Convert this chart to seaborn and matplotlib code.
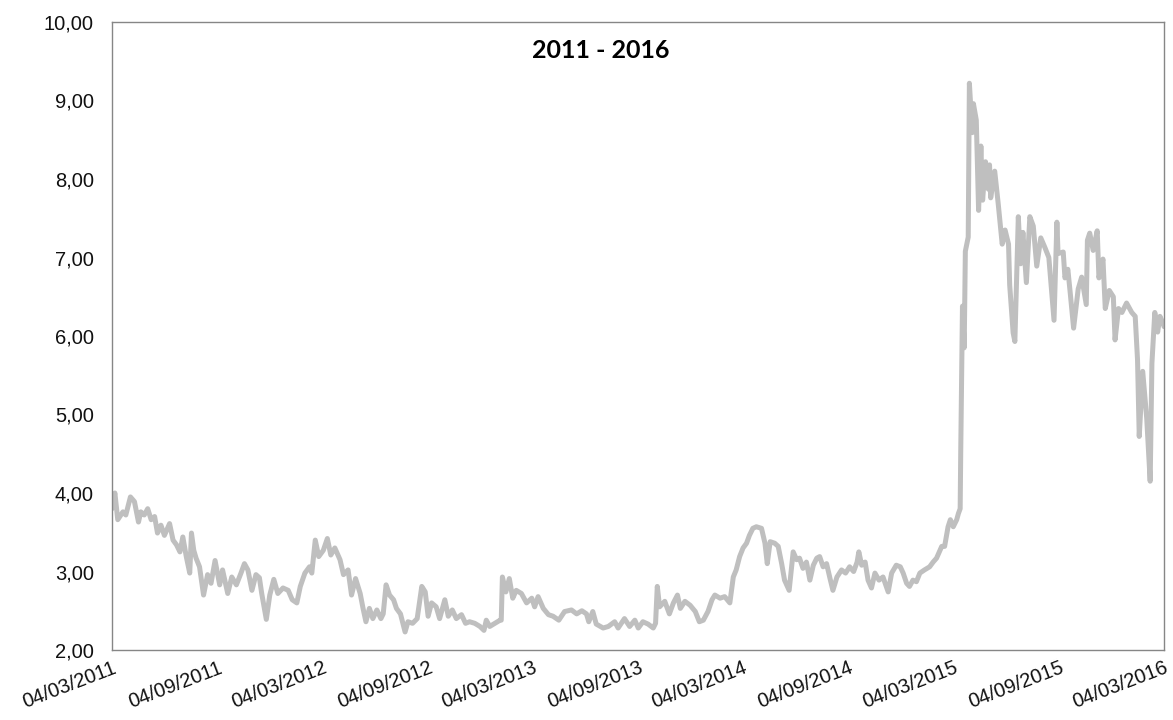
import matplotlib
matplotlib.use("Agg")
import matplotlib.pyplot as plt
import matplotlib.dates as mdates
from matplotlib.ticker import FuncFormatter
import seaborn as sns
import pandas as pd

# ---------------- data ----------------
dates_2011 = ["2011-03-04", "2011-03-09", "2011-03-14", "2011-03-23", "2011-03-28",
              "2011-04-05", "2011-04-12", "2011-04-19", "2011-04-23", "2011-04-29",
              "2011-05-05", "2011-05-11", "2011-05-17", "2011-05-22", "2011-05-28",
              "2011-06-03", "2011-06-12", "2011-06-18", "2011-06-24", "2011-06-30",
              "2011-07-05", "2011-07-11", "2011-07-17", "2011-07-20", "2011-07-24",
              "2011-07-28", "2011-08-03", "2011-08-10", "2011-08-17", "2011-08-23",
              "2011-08-30", "2011-09-07", "2011-09-12", "2011-09-21", "2011-09-28",
              "2011-10-06", "2011-10-14", "2011-10-20", "2011-10-26", "2011-11-02",
              "2011-11-09", "2011-11-15", "2011-11-19", "2011-11-27", "2011-12-03",
              "2011-12-10", "2011-12-17", "2011-12-26"]
values_2011 = [3.80, 4.00, 3.66, 3.76, 3.72,
               3.95, 3.89, 3.63, 3.76, 3.72,
               3.80, 3.66, 3.70, 3.49, 3.59,
               3.46, 3.61, 3.40, 3.34, 3.25,
               3.44, 3.19, 2.98, 3.49, 3.27,
               3.17, 3.06, 2.70, 2.96, 2.85,
               3.14, 2.83, 3.02, 2.72, 2.93,
               2.83, 2.98, 3.10, 3.02, 2.76,
               2.96, 2.92, 2.72, 2.39, 2.70,
               2.90, 2.72, 2.79]

dates_2012 = ["2012-01-04", "2012-01-11", "2012-01-19", "2012-01-25", "2012-02-02",
              "2012-02-10", "2012-02-14", "2012-02-20", "2012-02-26", "2012-03-05",
              "2012-03-12", "2012-03-18", "2012-03-25", "2012-04-03", "2012-04-09",
              "2012-04-17", "2012-04-23", "2012-04-30", "2012-05-08", "2012-05-13",
              "2012-05-18", "2012-05-24", "2012-05-30", "2012-06-06", "2012-06-13",
              "2012-06-17", "2012-06-22", "2012-06-28", "2012-07-05", "2012-07-10",
              "2012-07-17", "2012-07-25", "2012-07-30", "2012-08-07", "2012-08-15",
              "2012-08-23", "2012-08-29", "2012-09-03", "2012-09-09", "2012-09-17",
              "2012-09-23", "2012-10-02", "2012-10-08", "2012-10-15", "2012-10-22",
              "2012-10-31", "2012-11-07", "2012-11-14", "2012-11-23", "2012-12-02",
              "2012-12-09", "2012-12-13", "2012-12-19", "2012-12-28"]
values_2012 = [2.76, 2.64, 2.60, 2.81, 2.98,
               3.06, 2.98, 3.40, 3.19, 3.27,
               3.42, 3.21, 3.30, 3.15, 2.96,
               3.02, 2.70, 2.91, 2.72, 2.53,
               2.36, 2.53, 2.40, 2.51, 2.40,
               2.46, 2.83, 2.70, 2.64, 2.53,
               2.46, 2.23, 2.36, 2.34, 2.40,
               2.81, 2.74, 2.43, 2.60, 2.55,
               2.40, 2.64, 2.43, 2.51, 2.40,
               2.45, 2.34, 2.36, 2.34, 2.30,
               2.25, 2.38, 2.30, 2.34]

dates_2013 = ["2013-01-06", "2013-01-08", "2013-01-10", "2013-01-16", "2013-01-22",
              "2013-01-28", "2013-02-03", "2013-02-12", "2013-02-21", "2013-03-02",
              "2013-03-07", "2013-03-13", "2013-03-22", "2013-03-31", "2013-04-08",
              "2013-04-18", "2013-04-28", "2013-05-10", "2013-05-19", "2013-05-28",
              "2013-06-05", "2013-06-09", "2013-06-16", "2013-06-22", "2013-07-04",
              "2013-07-13", "2013-07-24", "2013-07-30", "2013-08-10", "2013-08-19",
              "2013-08-28", "2013-09-03", "2013-09-11", "2013-09-20", "2013-09-29",
              "2013-10-03", "2013-10-06", "2013-10-10", "2013-10-19", "2013-10-27",
              "2013-11-03", "2013-11-10", "2013-11-15", "2013-11-23", "2013-12-02",
              "2013-12-11", "2013-12-18", "2013-12-25"]
values_2013 = [2.38, 2.38, 2.93, 2.74, 2.91,
               2.66, 2.76, 2.72, 2.60, 2.66,
               2.55, 2.68, 2.53, 2.45, 2.43,
               2.38, 2.49, 2.51, 2.46, 2.50,
               2.46, 2.36, 2.49, 2.33, 2.28,
               2.30, 2.36, 2.28, 2.40, 2.30,
               2.38, 2.28, 2.36, 2.33, 2.28,
               2.34, 2.81, 2.55, 2.62, 2.46,
               2.60, 2.70, 2.53, 2.62, 2.57,
               2.49, 2.36, 2.38]

dates_2014 = ["2014-01-02", "2014-01-09", "2014-01-14", "2014-01-23", "2014-01-31",
              "2014-02-09", "2014-02-15", "2014-02-20", "2014-02-26", "2014-03-04",
              "2014-03-10", "2014-03-15", "2014-03-21", "2014-03-27", "2014-04-05",
              "2014-04-11", "2014-04-15", "2014-04-20", "2014-04-28", "2014-05-04",
              "2014-05-10", "2014-05-15", "2014-05-23", "2014-05-30", "2014-06-05",
              "2014-06-10", "2014-06-16", "2014-06-22", "2014-06-28", "2014-07-04",
              "2014-07-10", "2014-07-15", "2014-07-21", "2014-07-27", "2014-08-02",
              "2014-08-07", "2014-08-14", "2014-08-22", "2014-08-29", "2014-09-05",
              "2014-09-12", "2014-09-18", "2014-09-21", "2014-09-26", "2014-10-02",
              "2014-10-07", "2014-10-13", "2014-10-19", "2014-10-26", "2014-11-02",
              "2014-11-11", "2014-11-17", "2014-11-25", "2014-12-02", "2014-12-07",
              "2014-12-13", "2014-12-18", "2014-12-24", "2014-12-30"]
values_2014 = [2.49, 2.64, 2.70, 2.66, 2.68,
               2.60, 2.93, 3.02, 3.19, 3.30,
               3.36, 3.46, 3.55, 3.57, 3.55,
               3.36, 3.10, 3.38, 3.36, 3.32,
               3.10, 2.89, 2.76, 3.25, 3.15,
               3.17, 3.04, 3.12, 2.89, 3.08,
               3.17, 3.19, 3.06, 3.10, 2.91,
               2.76, 2.93, 3.02, 2.98, 3.06,
               3.00, 3.12, 3.25, 3.08, 3.12,
               2.89, 2.79, 2.98, 2.89, 2.93,
               2.74, 2.98, 3.08, 3.06, 2.98,
               2.85, 2.81, 2.89, 2.87]

dates_2015 = ["2015-01-05", "2015-01-13", "2015-01-22", "2015-01-28", "2015-02-03",
              "2015-02-12", "2015-02-17", "2015-02-23", "2015-02-27", "2015-03-04",
              "2015-03-10", "2015-03-13", "2015-03-16", "2015-03-17", "2015-03-19",
              "2015-03-20", "2015-03-23", "2015-03-25", "2015-03-30", "2015-04-01",
              "2015-04-06", "2015-04-08", "2015-04-13", "2015-04-17", "2015-04-21",
              "2015-04-24", "2015-04-29", "2015-05-04", "2015-05-06", "2015-05-08",
              "2015-05-15", "2015-05-21", "2015-05-25", "2015-05-28", "2015-06-02",
              "2015-06-08", "2015-06-10", "2015-06-16", "2015-06-19", "2015-06-25",
              "2015-06-29", "2015-07-03", "2015-07-09", "2015-07-15", "2015-07-21",
              "2015-07-27", "2015-08-03", "2015-08-10", "2015-08-17", "2015-08-21",
              "2015-08-26", "2015-08-31", "2015-09-02", "2015-09-11", "2015-09-14",
              "2015-09-19", "2015-09-23", "2015-09-29", "2015-10-07", "2015-10-13",
              "2015-10-21", "2015-10-23", "2015-10-27", "2015-11-02", "2015-11-09",
              "2015-11-12", "2015-11-19", "2015-11-23", "2015-11-30", "2015-12-07",
              "2015-12-10", "2015-12-16", "2015-12-22", "2015-12-30"]
values_2015 = [2.98, 3.02, 3.06, 3.12, 3.17,
               3.32, 3.32, 3.57, 3.66, 3.57,
               3.66, 3.74, 3.80, 4.53, 5.72,
               6.38, 5.85, 7.08, 7.26, 9.22,
               8.59, 8.96, 8.75, 7.60, 8.42,
               7.73, 8.22, 7.87, 8.18, 7.76,
               8.10, 7.69, 7.39, 7.17, 7.35,
               7.17, 6.65, 6.04, 5.93, 7.52,
               6.92, 7.32, 6.68, 7.52, 7.40,
               6.89, 7.25, 7.13, 7.00, 6.65,
               6.20, 7.45, 7.05, 7.07, 6.74,
               6.85, 6.56, 6.10, 6.60, 6.75,
               6.40, 7.22, 7.31, 7.09, 7.34,
               6.74, 6.98, 6.35, 6.58, 6.50,
               5.95, 6.35, 6.30, 6.42]

dates_2016 = ["2016-01-08", "2016-01-14", "2016-01-18", "2016-01-21", "2016-01-27",
              "2016-02-03", "2016-02-09", "2016-02-12", "2016-02-17", "2016-02-22",
              "2016-02-26", "2016-03-03", "2016-03-04"]
values_2016 = [6.30, 6.25, 5.70, 4.72, 5.55,
               4.95, 4.15, 5.65, 6.30, 6.05,
               6.25, 6.15, 6.12]

tick_dates = ["2011-03-04", "2011-09-04", "2012-03-04", "2012-09-04", "2013-03-04",
              "2013-09-04", "2014-03-04", "2014-09-04", "2015-03-04", "2015-09-04",
              "2016-03-04"]
y_ticks = [2, 3, 4, 5, 6, 7, 8, 9, 10]
title_text = "2011 - 2016"

all_dates = dates_2011 + dates_2012 + dates_2013 + dates_2014 + dates_2015 + dates_2016
all_values = values_2011 + values_2012 + values_2013 + values_2014 + values_2015 + values_2016
df = pd.DataFrame({"date": pd.to_datetime(all_dates), "value": all_values})

# ---------------- style ----------------
sns.set_theme(style="white")
plt.rcParams["font.family"] = ["Liberation Sans", "DejaVu Sans"]

W, H = 1173, 720
fig = plt.figure(figsize=(W / 100, H / 100), dpi=100)
fig.patch.set_facecolor("white")
left, right, top, bottom = 112, 1164, 22, 650
ax = fig.add_axes([left / W, 1 - bottom / H, (right - left) / W, (bottom - top) / H])

sns.lineplot(data=df, x="date", y="value", ax=ax, color="#BFBFBF",
             linewidth=3.6, estimator=None)
for ln in ax.lines:
    ln.set_solid_joinstyle("round")
    ln.set_solid_capstyle("round")

ax.set_xlim(pd.Timestamp(tick_dates[0]), pd.Timestamp(tick_dates[-1]))
ax.set_ylim(y_ticks[0], y_ticks[-1])
ax.set_yticks(y_ticks)
ax.yaxis.set_major_formatter(FuncFormatter(lambda v, p: f"{v:.2f}".replace(".", ",")))
ax.set_xticks(pd.to_datetime(tick_dates))
ax.xaxis.set_major_formatter(mdates.DateFormatter("%d/%m/%Y"))
ax.set_xlabel("")
ax.set_ylabel("")
ax.grid(False)

spine_color = "#868686"
for sp in ax.spines.values():
    sp.set_visible(True)
    sp.set_color(spine_color)
    sp.set_linewidth(1.0)

ax.tick_params(axis="both", which="major", direction="out", length=5, width=1,
               color=spine_color, labelsize=14.5, labelcolor="#111111")
ax.tick_params(axis="y", pad=8)
ax.tick_params(axis="x", pad=1)
for lbl in ax.get_xticklabels():
    lbl.set_rotation(21)
    lbl.set_ha("right")
    lbl.set_va("top")
    lbl.set_rotation_mode("anchor")

fig.text(601 / W, 1 - 50 / H, title_text, ha="center", va="center",
         fontsize=18, fontweight="bold", family=["Lato", "DejaVu Sans"], color="black")

fig.savefig("out.png", dpi=100, facecolor="white")
